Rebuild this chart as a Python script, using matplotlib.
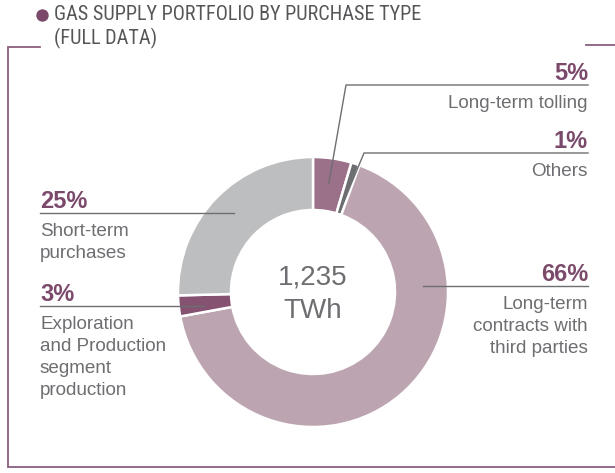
import numpy as np
import matplotlib
matplotlib.use("Agg")
import matplotlib.pyplot as plt

# ---- data ----
categories = ["Long-term tolling", "Others", "Long-term\ncontracts with\nthird parties",
              "Exploration\nand Production\nsegment\nproduction", "Short-term\npurchases"]
values = [4.6, 1.0, 66.5, 2.5, 25.4]
pct_labels = ["5%", "1%", "66%", "3%", "25%"]
colors = ["#9B7089", "#6D6E71", "#BCA5B1", "#855271", "#BDBEC0"]
total_value = "1,235"
total_unit = "TWh"
title_lines = ["GAS SUPPLY PORTFOLIO BY PURCHASE TYPE", "(FULL DATA)"]

W, H = 615, 473
fig = plt.figure(figsize=(W / 100, H / 100), dpi=100)
ax = fig.add_axes([0, 0, 1, 1])

def Y(y):
    return H - y

cx, cy, R, ring = 313, 292, 135, 53
wedges, _ = ax.pie(values, colors=colors, startangle=90, counterclock=False,
                   center=(cx, Y(cy)), radius=R,
                   wedgeprops=dict(width=ring, edgecolor="white", linewidth=1.8))
ax.set_xlim(0, W)
ax.set_ylim(0, H)
ax.set_aspect("auto")
ax.axis("off")

def anchor(i, r):
    w = wedges[i]
    a = np.deg2rad((w.theta1 + w.theta2) / 2)
    return cx + r * np.cos(a), Y(cy) + r * np.sin(a)

TXT = "#6D6E71"
PCT = "#7B4A6B"
LINE = "#6D6E71"
font = "Liberation Sans"

# frame
ax.plot([40, 8, 8, W], [Y(47), Y(47), Y(467), Y(467)], color="#8A5F7D", lw=1.3,
        solid_joinstyle="miter")
ax.plot([586, W], [Y(45), Y(45)], color="#8A5F7D", lw=1.3)

# title
ax.scatter([42], [Y(15)], s=80, color="#7B4A6B", zorder=5, linewidths=0)
for k, t in enumerate(title_lines):
    ax.text(54, Y(20 + 24 * k), t, ha="left", va="baseline", fontsize=14.6,
            color="#555658", family=["Roboto Condensed", "Liberation Sans"])

# center
ax.text(cx, Y(285), total_value, ha="center", va="baseline", fontsize=20,
        color=TXT, family=font)
ax.text(cx, Y(318), total_unit, ha="center", va="baseline", fontsize=20,
        color=TXT, family=font)

LH = 22

def label_block(i, x, y_line, ha):
    ax.text(x, Y(y_line - 5), pct_labels[i], ha=ha, va="baseline", fontsize=17,
            fontweight="bold", color=PCT, family=font)
    for k, ln in enumerate(categories[i].split("\n")):
        ax.text(x, Y(y_line + 23 + LH * k), ln, ha=ha, va="baseline", fontsize=13.6,
                color=TXT, family=font)

RX = 588
def right_label(i, y_line, pts):
    xs = [p[0] for p in pts] + [RX]
    ys = [p[1] for p in pts] + [Y(y_line)]
    ax.plot(xs, ys, color=LINE, lw=1.0)
    label_block(i, RX, y_line, "right")

a0 = anchor(0, 110)
right_label(0, 85, [a0, (346, Y(85))])
a1 = anchor(1, 84)
right_label(1, 153, [a1, (364, Y(153))])
right_label(2, 286, [(cx + 110, Y(286))])

LX = 40
def left_label(i, y_line, r):
    a = anchor(i, r)
    ax.plot([LX, a[0]], [Y(y_line), Y(y_line)], color=LINE, lw=1.0)
    label_block(i, LX, y_line, "left")

left_label(4, 213, 110)
left_label(3, 306, 110)

fig.savefig("out.png", dpi=100)
